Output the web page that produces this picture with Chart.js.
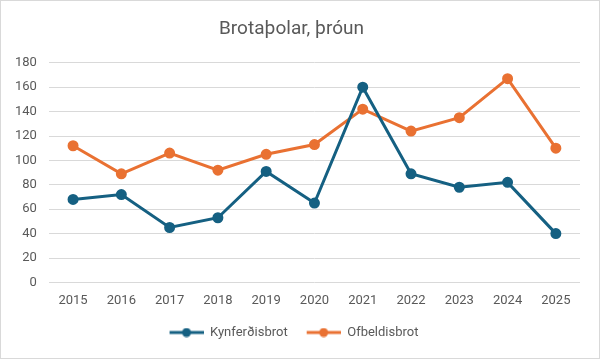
<!DOCTYPE html>
<html>
<head>
<meta charset="utf-8">
<script src="https://cdn.jsdelivr.net/npm/chart.js@4"></script>
<style>
  html, body { margin: 0; padding: 0; background: #fff; }
  #wrap { width: 598px; height: 357px; border: 1px solid #d9d9d9; position: relative; }
</style>
</head>
<body>
<div id="wrap"><canvas id="chart"></canvas></div>
<script>
const years = ['2015', '2016', '2017', '2018', '2019', '2020', '2021', '2022', '2023', '2024', '2025'];
const kynferdisbrot = [68, 72, 45, 53, 91, 65, 160, 89, 78, 82, 40];
const ofbeldisbrot = [112, 89, 106, 92, 105, 113, 142, 124, 135, 167, 110];

const fontFamily = 'Roboto, "Open Sans", sans-serif';
const textColor = '#595959';

// legend marker: short line with a dot in the middle (a little blank space on the left)
function legendMarker(color) {
    const c = document.createElement('canvas');
    c.width = 39;
    c.height = 10;
    const ctx = c.getContext('2d');
    ctx.strokeStyle = color;
    ctx.lineWidth = 3;
    ctx.beginPath();
    ctx.moveTo(5, 5);
    ctx.lineTo(39, 5);
    ctx.stroke();
    ctx.fillStyle = color;
    ctx.beginPath();
    ctx.arc(22, 5, 4.5, 0, Math.PI * 2);
    ctx.fill();
    return c;
}

new Chart(document.getElementById('chart'), {
    type: 'line',
    data: {
        labels: years,
        datasets: [{
            label: 'Kynferðisbrot',
            data: kynferdisbrot,
            borderColor: '#156082',
            backgroundColor: '#156082',
            borderWidth: 3,
            pointRadius: 4,
            tension: 0
        }, {
            label: 'Ofbeldisbrot',
            data: ofbeldisbrot,
            borderColor: '#E97132',
            backgroundColor: '#E97132',
            borderWidth: 3,
            pointRadius: 4,
            tension: 0
        }]
    },
    options: {
        responsive: true,
        maintainAspectRatio: false,
        animation: false,
        layout: { padding: { left: 2, right: 19, top: 0, bottom: 9 } },
        plugins: {
            title: {
                display: true,
                text: 'Brotaþolar, þróun',
                color: textColor,
                font: { family: fontFamily, size: 19, weight: 'normal' },
                padding: { top: 17, bottom: 22 }
            },
            legend: {
                position: 'bottom',
                labels: {
                    color: textColor,
                    font: { family: fontFamily, size: 13 },
                    usePointStyle: true,
                    pointStyleWidth: 39,
                    boxWidth: 39,
                    boxHeight: 10,
                    padding: 14,
                    generateLabels(chart) {
                        return chart.data.datasets.map((ds, i) => ({
                            text: ds.label,
                            fontColor: textColor,
                            pointStyle: legendMarker(ds.borderColor),
                            datasetIndex: i,
                            hidden: false,
                            lineWidth: 0
                        }));
                    }
                }
            },
            tooltip: { enabled: false }
        },
        scales: {
            x: {
                offset: true,
                grid: { display: false },
                border: { display: false },
                ticks: { color: textColor, font: { family: fontFamily, size: 13 }, padding: 3 }
            },
            y: {
                min: 0,
                max: 180,
                ticks: { stepSize: 20, color: textColor, font: { family: fontFamily, size: 13 }, padding: 12 },
                grid: { color: '#d9d9d9', drawTicks: false },
                border: { display: false }
            }
        }
    }
});
</script>
</body>
</html>
